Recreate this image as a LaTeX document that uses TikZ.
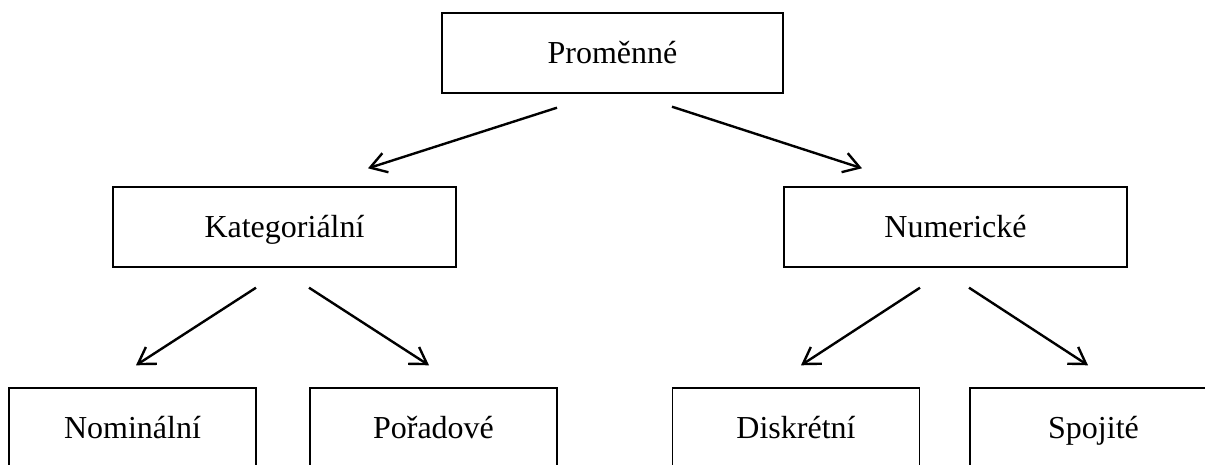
\documentclass[tikz,border=0pt]{standalone}
\usepackage{fontspec}
\setmainfont{Liberation Serif}
\usetikzlibrary{arrows.meta}

\tikzset{
    box/.style={draw, line width=1.4pt, inner sep=0pt, minimum height=80pt,
        text height=21pt, text depth=0pt,
        font=\fontsize{32pt}{38pt}\selectfont},
    arr/.style={line width=2.4pt, -{Straight Barb[length=16pt,width=20pt,line width=2.4pt]}}
}

\begin{document}
\begin{tikzpicture}[x=1pt,y=-1pt]
    \def\wtop{341pt}
    \def\wmid{343pt}
    \def\wlow{247pt}

    \useasboundingbox (0,0) rectangle (1205,464);

    % boxes
    \node[box, minimum width=\wtop] (prom) at (612.5,53) {Proměnné};
    \node[box, minimum width=\wmid] (kat) at (284.5,227) {Kategoriální};
    \node[box, minimum width=\wmid] (num) at (955.5,227) {Numerické};
    \node[box, minimum width=\wlow] (nom) at (132.5,428) {Nominální};
    \node[box, minimum width=\wlow] (por) at (433.5,428) {Pořadové};
    \node[box, minimum width=\wlow] (dis) at (796,428) {Diskrétní};
    \node[box, minimum width=\wlow] (spo) at (1093.5,428) {Spojité};

    % arrows
    \draw[arr] ([xshift=-55.5pt,yshift=-14pt]prom.south) -- ([xshift=83.5pt,yshift=18pt]kat.north);
    \draw[arr] ([xshift=59.5pt,yshift=-13pt]prom.south) -- ([xshift=-93.5pt,yshift=18pt]num.north);
    \draw[arr] ([xshift=-28.5pt,yshift=-20pt]kat.south) -- ([xshift=3.5pt,yshift=22pt]nom.north);
    \draw[arr] ([xshift=24.5pt,yshift=-20pt]kat.south) -- ([xshift=-4.5pt,yshift=22pt]por.north);
    \draw[arr] ([xshift=-35.5pt,yshift=-20pt]num.south) -- ([xshift=5pt,yshift=22pt]dis.north);
    \draw[arr] ([xshift=13.5pt,yshift=-20pt]num.south) -- ([xshift=-5.5pt,yshift=22pt]spo.north);

\end{tikzpicture}
\end{document}
